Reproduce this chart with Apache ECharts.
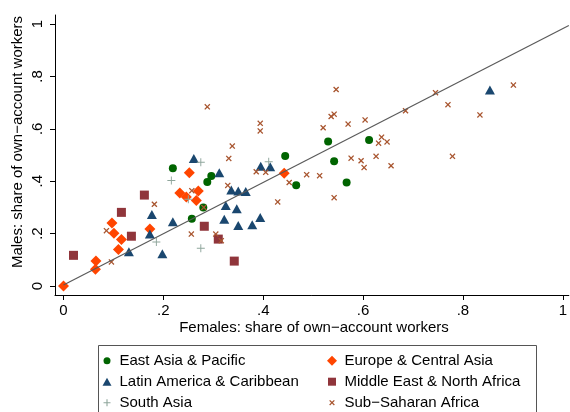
<!DOCTYPE html>
<html>
<head>
<meta charset="utf-8">
<script src="https://cdn.jsdelivr.net/npm/echarts@6/dist/echarts.min.js"></script>
<style>
  html, body { margin: 0; padding: 0; background: #fff; }
  #chart { width: 570px; height: 412px; }
</style>
</head>
<body>
<div id="chart"></div>
<script>
// Share of own-account workers, females (x) vs males (y), by region

const eapX = [0.219, 0.296, 0.288, 0.257, 0.280, 0.444, 0.466, 0.530, 0.542, 0.567, 0.612];
const eapY = [0.449, 0.420, 0.397, 0.257, 0.300, 0.496, 0.385, 0.552, 0.476, 0.395, 0.557];

const ecaX = [0.000, 0.065, 0.064, 0.097, 0.101, 0.116, 0.110, 0.173, 0.252, 0.233, 0.246, 0.270, 0.266, 0.442];
const ecaY = [0.000, 0.095, 0.064, 0.240, 0.201, 0.177, 0.139, 0.218, 0.432, 0.355, 0.340, 0.363, 0.326, 0.430];

const lacX = [0.261, 0.312, 0.177, 0.173, 0.131, 0.198, 0.219, 0.325, 0.347, 0.322, 0.350, 0.336, 0.350, 0.365, 0.378, 0.394, 0.395, 0.414, 0.854];
const lacY = [0.487, 0.432, 0.273, 0.198, 0.131, 0.123, 0.245, 0.307, 0.295, 0.255, 0.231, 0.366, 0.363, 0.361, 0.234, 0.261, 0.457, 0.455, 0.748];

const menaX = [0.020, 0.162, 0.116, 0.136, 0.282, 0.310, 0.342];
const menaY = [0.117, 0.347, 0.281, 0.190, 0.228, 0.179, 0.095];

const sasX = [0.275, 0.216, 0.250, 0.186, 0.275, 0.411];
const sasY = [0.472, 0.403, 0.331, 0.168, 0.144, 0.474];

const ssaX = [0.182, 0.086, 0.096, 0.338, 0.331, 0.329, 0.257, 0.256, 0.305, 0.316, 0.281, 0.394, 0.394, 0.288,
              0.386, 0.405, 0.452, 0.429, 0.487, 0.513, 0.542, 0.546, 0.536, 0.542, 0.520, 0.570, 0.604, 0.637,
              0.648, 0.631, 0.576, 0.596, 0.602, 0.626, 0.656, 0.685, 0.745, 0.770, 0.779, 0.834, 0.901];
const ssaY = [0.312, 0.211, 0.092, 0.534, 0.487, 0.384, 0.364, 0.198, 0.198, 0.173, 0.300, 0.621, 0.592, 0.684,
              0.436, 0.434, 0.395, 0.321, 0.425, 0.421, 0.337, 0.750, 0.647, 0.656, 0.604, 0.618, 0.634, 0.568,
              0.550, 0.545, 0.488, 0.478, 0.452, 0.495, 0.459, 0.669, 0.738, 0.692, 0.495, 0.653, 0.767];

// fitted line end points
const fitX = [0, 1.012];
const fitY = [0.004, 0.994];

const tickValues = [0, 0.2, 0.4, 0.6, 0.8, 1];
const regionNames = [
  'East Asia & Pacific', 'Europe & Central Asia', 'Latin America & Caribbean',
  'Middle East & North Africa', 'South Asia', 'Sub\u2212Saharan Africa'
];

const pair = (xs, ys) => xs.map((x, i) => [x, ys[i]]);
const tickText = v => (v === 0 ? '0' : v === 1 ? '1' : String(v).replace(/^0/, ''));

const FONT = '"Liberation Sans", Arial, Helvetica, sans-serif';
const FS = 15;
const PLUS = 'path://M4.4,0 H5.6 V4.4 H10 V5.6 H5.6 V10 H4.4 V5.6 H0 V4.4 H4.4 Z';
const CROSS = 'path://M0,1.5 L1.5,0 L5,3.5 L8.5,0 L10,1.5 L6.5,5 L10,8.5 L8.5,10 L5,6.5 L1.5,10 L0,8.5 L3.5,5 Z';

// legend icons, padded to a 10x10 box so each keeps its own visual size
const pad = 'M0,0 M10,10 ';
const icons = {
  circle:  'path://' + pad + 'M1.5,5 A3.5,3.5 0 1,0 8.5,5 A3.5,3.5 0 1,0 1.5,5 Z',
  diamond: 'path://' + pad + 'M5,0 L10,5 L5,10 L0,5 Z',
  tri:     'path://' + pad + 'M5,1 L9.5,9 L0.5,9 Z',
  square:  'path://' + pad + 'M1,1 H9 V9 H1 Z',
  plus:    'path://' + pad + 'M4.45,1.5 H5.55 V4.45 H8.5 V5.55 H5.55 V8.5 H4.45 V5.55 H1.5 V4.45 H4.45 Z',
  cross:   'path://' + pad + 'M2.2,3.1 L3.1,2.2 L5,4.1 L6.9,2.2 L7.8,3.1 L5.9,5 L7.8,6.9 L6.9,7.8 L5,5.9 L3.1,7.8 L2.2,6.9 L4.1,5 Z'
};

const colors = ['#006400', '#ff4500', '#1a476f', '#90353b', '#8fa69c', '#a8552f'];

const legendBase = {
  orient: 'vertical',
  padding: 0,
  itemWidth: 15,
  itemHeight: 10,
  itemGap: 6,
  top: 353.2,
  selectedMode: false,
  textStyle: { fontFamily: FONT, fontSize: FS, color: '#000', lineHeight: 15 }
};

const chart = echarts.init(document.getElementById('chart'), null, { renderer: 'canvas' });

chart.setOption({
  animation: false,
  backgroundColor: '#fff',
  grid: { left: 55, right: 0, top: 15, bottom: 117, containLabel: false },
  xAxis: {
    type: 'value', min: -0.017, max: 1.012,
    axisLine: { show: true, onZero: false, lineStyle: { color: '#000', width: 1 } },
    axisTick: { show: true, length: 5, lineStyle: { color: '#000' }, customValues: tickValues },
    axisLabel: { show: true, margin: 8.5, fontFamily: FONT, fontSize: FS, color: '#000',
                 customValues: tickValues, formatter: tickText },
    splitLine: { show: false }
  },
  yAxis: {
    type: 'value', min: -0.0344, max: 1.0344,
    axisLine: { show: true, onZero: false, lineStyle: { color: '#000', width: 1 } },
    axisTick: { show: true, length: 5, lineStyle: { color: '#000' }, customValues: tickValues },
    axisLabel: { show: true, rotate: 90, margin: 9.5, fontFamily: FONT, fontSize: FS, color: '#000',
                 customValues: tickValues, formatter: tickText },
    splitLine: { show: false }
  },
  legend: [
    Object.assign({}, legendBase, {
      left: 102,
      data: [
        { name: regionNames[0], icon: icons.circle },
        { name: regionNames[2], icon: icons.tri },
        { name: regionNames[4], icon: icons.plus }
      ]
    }),
    Object.assign({}, legendBase, {
      left: 327,
      data: [
        { name: regionNames[1], icon: icons.diamond },
        { name: regionNames[3], icon: icons.square },
        { name: regionNames[5], icon: icons.cross }
      ]
    })
  ],
  graphic: [
    { type: 'rect', silent: true, z: 0,
      shape: { x: 98.5, y: 345.5, width: 438, height: 80 },
      style: { fill: 'none', stroke: '#555', lineWidth: 1 } },
    { type: 'text', silent: true, x: 314, y: 328,
      style: { text: 'Females: share of own\u2212account workers', font: FS + 'px ' + FONT,
               fill: '#000', textAlign: 'center', textVerticalAlign: 'middle' } },
    { type: 'text', silent: true, x: 18, y: 142, rotation: Math.PI / 2,
      style: { text: 'Males: share of own\u2212account workers', font: FS + 'px ' + FONT,
               fill: '#000', textAlign: 'center', textVerticalAlign: 'middle' } }
  ],
  series: [
    { name: regionNames[0], type: 'scatter', data: pair(eapX, eapY), symbol: 'circle', symbolSize: 8,
      itemStyle: { color: colors[0], opacity: 1 } },
    { name: regionNames[1], type: 'scatter', data: pair(ecaX, ecaY), symbol: 'diamond', symbolSize: 11,
      itemStyle: { color: colors[1], opacity: 1 } },
    { name: regionNames[2], type: 'scatter', data: pair(lacX, lacY), symbol: 'triangle', symbolSize: [10, 9],
      itemStyle: { color: colors[2], opacity: 1 } },
    { name: regionNames[3], type: 'scatter', data: pair(menaX, menaY), symbol: 'rect', symbolSize: 9,
      itemStyle: { color: colors[3], opacity: 1 } },
    { name: regionNames[4], type: 'scatter', data: pair(sasX, sasY), symbol: PLUS, symbolSize: 8,
      itemStyle: { color: colors[4], opacity: 1 } },
    { name: regionNames[5], type: 'scatter', data: pair(ssaX, ssaY), symbol: CROSS, symbolSize: 6,
      itemStyle: { color: colors[5], opacity: 1 } },
    { name: 'fit', type: 'line', data: pair(fitX, fitY), symbol: 'none', silent: true,
      lineStyle: { color: '#5a5a5a', width: 1.2 }, z: 3 }
  ]
});
</script>
</body>
</html>
